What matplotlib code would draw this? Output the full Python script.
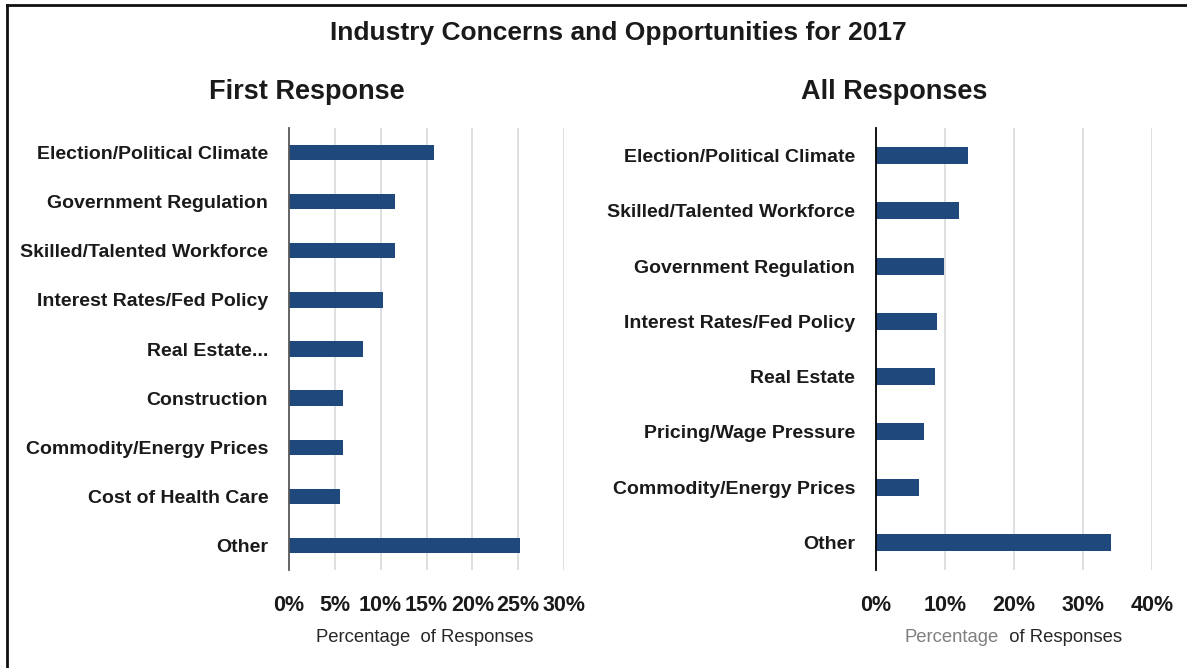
import matplotlib
matplotlib.use('Agg')
import matplotlib.pyplot as plt
from matplotlib.lines import Line2D
import numpy as np

plt.rcParams['font.family'] = ['Liberation Sans', 'DejaVu Sans']

first_labels = ['Election/Political Climate', 'Government Regulation',
                'Skilled/Talented Workforce', 'Interest Rates/Fed Policy',
                'Real Estate...', 'Construction', 'Commodity/Energy Prices',
                'Cost of Health Care', 'Other']
first_values = [15.8, 11.6, 11.6, 10.2, 8.1, 5.9, 5.9, 5.6, 25.2]
first_ticks = [0, 5, 10, 15, 20, 25, 30]

all_labels = ['Election/Political Climate', 'Skilled/Talented Workforce',
              'Government Regulation', 'Interest Rates/Fed Policy',
              'Real Estate', 'Pricing/Wage Pressure',
              'Commodity/Energy Prices', 'Other']
all_values = [13.3, 12.0, 9.8, 8.9, 8.5, 7.0, 6.2, 34.1]
all_ticks = [0, 10, 20, 30, 40]

bar_color = '#1f497d'

fig = plt.figure(figsize=(11.87, 6.68), dpi=100)

def draw(ax, labels, values, ticks, spine_col):
    y = np.arange(len(labels))
    ax.barh(y, values, height=0.31, color=bar_color, zorder=3)
    ax.set_ylim(len(labels) - 0.5, -0.5)
    ax.set_xlim(ticks[0], ticks[-1])
    ax.set_yticks(y)
    ax.set_yticklabels(labels, fontsize=14, fontweight='bold', color='#1a1a1a')
    ax.set_xticks(ticks)
    ax.set_xticklabels([f'{t}%' for t in ticks], fontsize=15.5, fontweight='bold',
                       color='#1a1a1a')
    ax.tick_params(axis='y', length=0, pad=15)
    ax.tick_params(axis='x', length=0, pad=18)
    ax.grid(axis='x', color='#d9d9d9', linewidth=1.2, zorder=0)
    for s in ['top', 'right', 'bottom']:
        ax.spines[s].set_visible(False)
    ax.spines['left'].set_color(spine_col)
    ax.spines['left'].set_linewidth(1.3)
    ax.spines['left'].set_zorder(4)

ax1 = fig.add_axes([289 / 1187, 1 - 570 / 668, 275 / 1187, 442 / 668])
draw(ax1, first_labels, first_values, first_ticks, '#595959')
ax2 = fig.add_axes([876 / 1187, 1 - 570 / 668, 276 / 1187, 442 / 668])
draw(ax2, all_labels, all_values, all_ticks, '#000000')

fig.text(618 / 1187, 1 - 33 / 668, 'Industry Concerns and Opportunities for 2017',
         ha='center', va='center', fontsize=19, fontweight='bold', color='#1a1a1a')
fig.text(307 / 1187, 1 - 92 / 668, 'First Response', ha='center', va='center',
         fontsize=19.5, fontweight='bold', color='#1a1a1a')
fig.text(894 / 1187, 1 - 92 / 668, 'All Responses', ha='center', va='center',
         fontsize=19.5, fontweight='bold', color='#1a1a1a')

fig.text(425 / 1187, 1 - 637 / 668, 'Percentage  of Responses', ha='center',
         va='center', fontsize=13.3, color='#262626')
fig.text(999 / 1187, 1 - 637 / 668, 'Percentage', ha='right', va='center',
         fontsize=13.3, color='#7f7f7f')
fig.text(999 / 1187, 1 - 637 / 668, '  of Responses', ha='left', va='center',
         fontsize=13.3, color='#262626')

# frame lines (top and left)
fig.add_artist(Line2D([7 / 1187, 1], [1 - 5 / 668, 1 - 5 / 668], color='#111111',
                      linewidth=2, transform=fig.transFigure))
fig.add_artist(Line2D([7 / 1187, 7 / 1187], [0, 1 - 5 / 668], color='#111111',
                      linewidth=2, transform=fig.transFigure))

fig.savefig('out.png', dpi=100)
